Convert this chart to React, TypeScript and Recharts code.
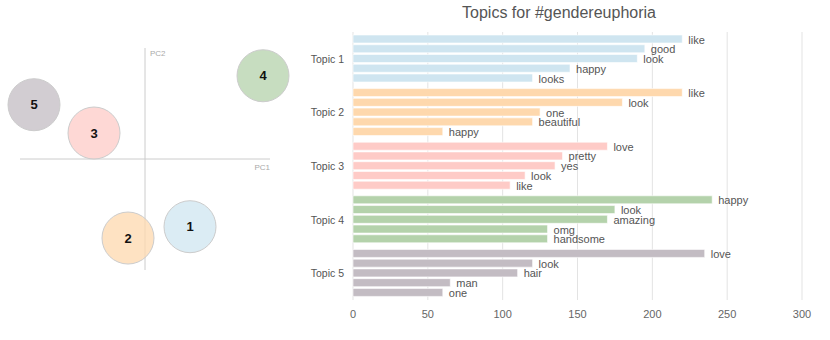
import React from 'react';
import {
  BarChart, Bar, XAxis, YAxis, CartesianGrid, LabelList, Cell,
  ScatterChart, Scatter, ReferenceLine,
} from 'recharts';

const topics = ['Topic 1', 'Topic 2', 'Topic 3', 'Topic 4', 'Topic 5'];
const topicColors = ['#cfe5f0', '#fed8ad', '#fecbc7', '#b4d2ab', '#c3bcc3'];

const topic1Words = ['like', 'good', 'look', 'happy', 'looks'];
const topic1Values = [220, 195, 190, 145, 120];
const topic2Words = ['like', 'look', 'one', 'beautiful', 'happy'];
const topic2Values = [220, 180, 125, 120, 60];
const topic3Words = ['love', 'pretty', 'yes', 'look', 'like'];
const topic3Values = [170, 140, 135, 115, 105];
const topic4Words = ['happy', 'look', 'amazing', 'omg', 'handsome'];
const topic4Values = [240, 175, 170, 130, 130];
const topic5Words = ['love', 'look', 'hair', 'man', 'one'];
const topic5Values = [235, 120, 110, 65, 60];

const xTicks = [0, 50, 100, 150, 200, 250, 300];

// PCA positions of topics (intertopic distance map)
const pcaLabels = ['1', '2', '3', '4', '5'];
const pc1 = [0.36, -0.136, -0.408, 0.944, -0.888];
const pc2 = [-0.61, -0.712, 0.234, 0.75, 0.489];

const allWords = [topic1Words, topic2Words, topic3Words, topic4Words, topic5Words];
const allValues = [topic1Values, topic2Values, topic3Values, topic4Values, topic5Values];

const barData = topics.map((t, i) => {
  const row: any = { topic: t };
  for (let k = 0; k < 5; k++) {
    row['v' + k] = allValues[i][k];
    row['w' + k] = allWords[i][k];
  }
  return row;
});

const scatterData = pcaLabels.map((l, i) => ({ x: pc1[i], y: pc2[i], label: l, color: topicColors[i] }));

const FONT = '"Liberation Sans", Arial, sans-serif';

const CircleShape = (props: any) => {
  const { cx, cy, payload } = props;
  return (
    <g>
      <circle cx={cx} cy={cy} r={26} fill={payload.color} fillOpacity={0.75} stroke="#cccccc" strokeWidth={1} />
      <text x={cx} y={cy} textAnchor="middle" dominantBaseline="central" fontFamily={FONT} fontWeight="bold" fontSize={13} fill="#111">
        {payload.label}
      </text>
    </g>
  );
};

const PC2Label = (props: any) => {
  const vb = props.viewBox || {};
  return (
    <text x={vb.x + 5} y={vb.y + 8} fontFamily={FONT} fontSize={8} fill="#aaa">PC2</text>
  );
};

const PC1Label = (props: any) => {
  const vb = props.viewBox || {};
  return (
    <text x={vb.x + vb.width} y={vb.y + 11} textAnchor="end" fontFamily={FONT} fontSize={8} fill="#aaa">PC1</text>
  );
};

const TopicTick = (props: any) => {
  const { x, y, payload } = props;
  return (
    <text x={x} y={y} textAnchor="end" dominantBaseline="central" fontFamily={FONT} fontSize={10.5} fill="#555">
      {payload.value}
    </text>
  );
};

const WordLabel = (props: any) => {
  const { x, y, width, height, value } = props;
  return (
    <text x={x + width + 6} y={y + height / 2 + 0.5} dominantBaseline="central" fontFamily={FONT} fontSize={11} fill="#555">
      {value}
    </text>
  );
};

export default function App() {
  return (
    <div style={{ position: 'absolute', left: 0, top: 0, width: 830, height: 340, background: '#fff', fontFamily: FONT }}>
      <div style={{ position: 'absolute', left: 0, top: 0 }}>
        <ScatterChart width={290} height={300} margin={{ top: 48, right: 20, bottom: 30, left: 20 }}>
          <XAxis type="number" dataKey="x" domain={[-1, 1]} hide />
          <YAxis type="number" dataKey="y" domain={[-1, 1]} hide />
          <ReferenceLine x={0} stroke="#cccccc" strokeWidth={1} label={<PC2Label />} />
          <ReferenceLine y={0} stroke="#cccccc" strokeWidth={1} label={<PC1Label />} />
          <Scatter data={scatterData} shape={<CircleShape />} isAnimationActive={false} />
        </ScatterChart>
      </div>
      <div style={{ position: 'absolute', left: 300, top: 4, width: 518, textAlign: 'center', fontSize: 16, color: '#555', fontFamily: FONT }}>
        Topics for #gendereuphoria
      </div>
      <div style={{ position: 'absolute', left: 300, top: 0 }}>
        <BarChart
          width={530}
          height={340}
          data={barData}
          layout="vertical"
          margin={{ top: 32, right: 28, bottom: 15, left: 0 }}
          barSize={8}
          barGap={1.75}
        >
          <CartesianGrid horizontal={false} stroke="#e3e3e3" />
          <XAxis
            type="number"
            domain={[0, 300]}
            ticks={xTicks}
            axisLine={false}
            tickLine={false}
            tickMargin={4}
            height={25}
            tick={{ fontSize: 11, fill: '#666', fontFamily: FONT }}
          />
          <YAxis
            type="category"
            dataKey="topic"
            width={53}
            axisLine={false}
            tickLine={false}
            tickMargin={3}
            tick={<TopicTick />}
          />
          {[0, 1, 2, 3, 4].map((k) => (
            <Bar key={k} dataKey={'v' + k} isAnimationActive={false} stroke="#ffffff" strokeOpacity={0.6} strokeWidth={1}>
              {barData.map((_, i) => (
                <Cell key={i} fill={topicColors[i]} />
              ))}
              <LabelList dataKey={'w' + k} content={<WordLabel />} />
            </Bar>
          ))}
        </BarChart>
      </div>
    </div>
  );
}
